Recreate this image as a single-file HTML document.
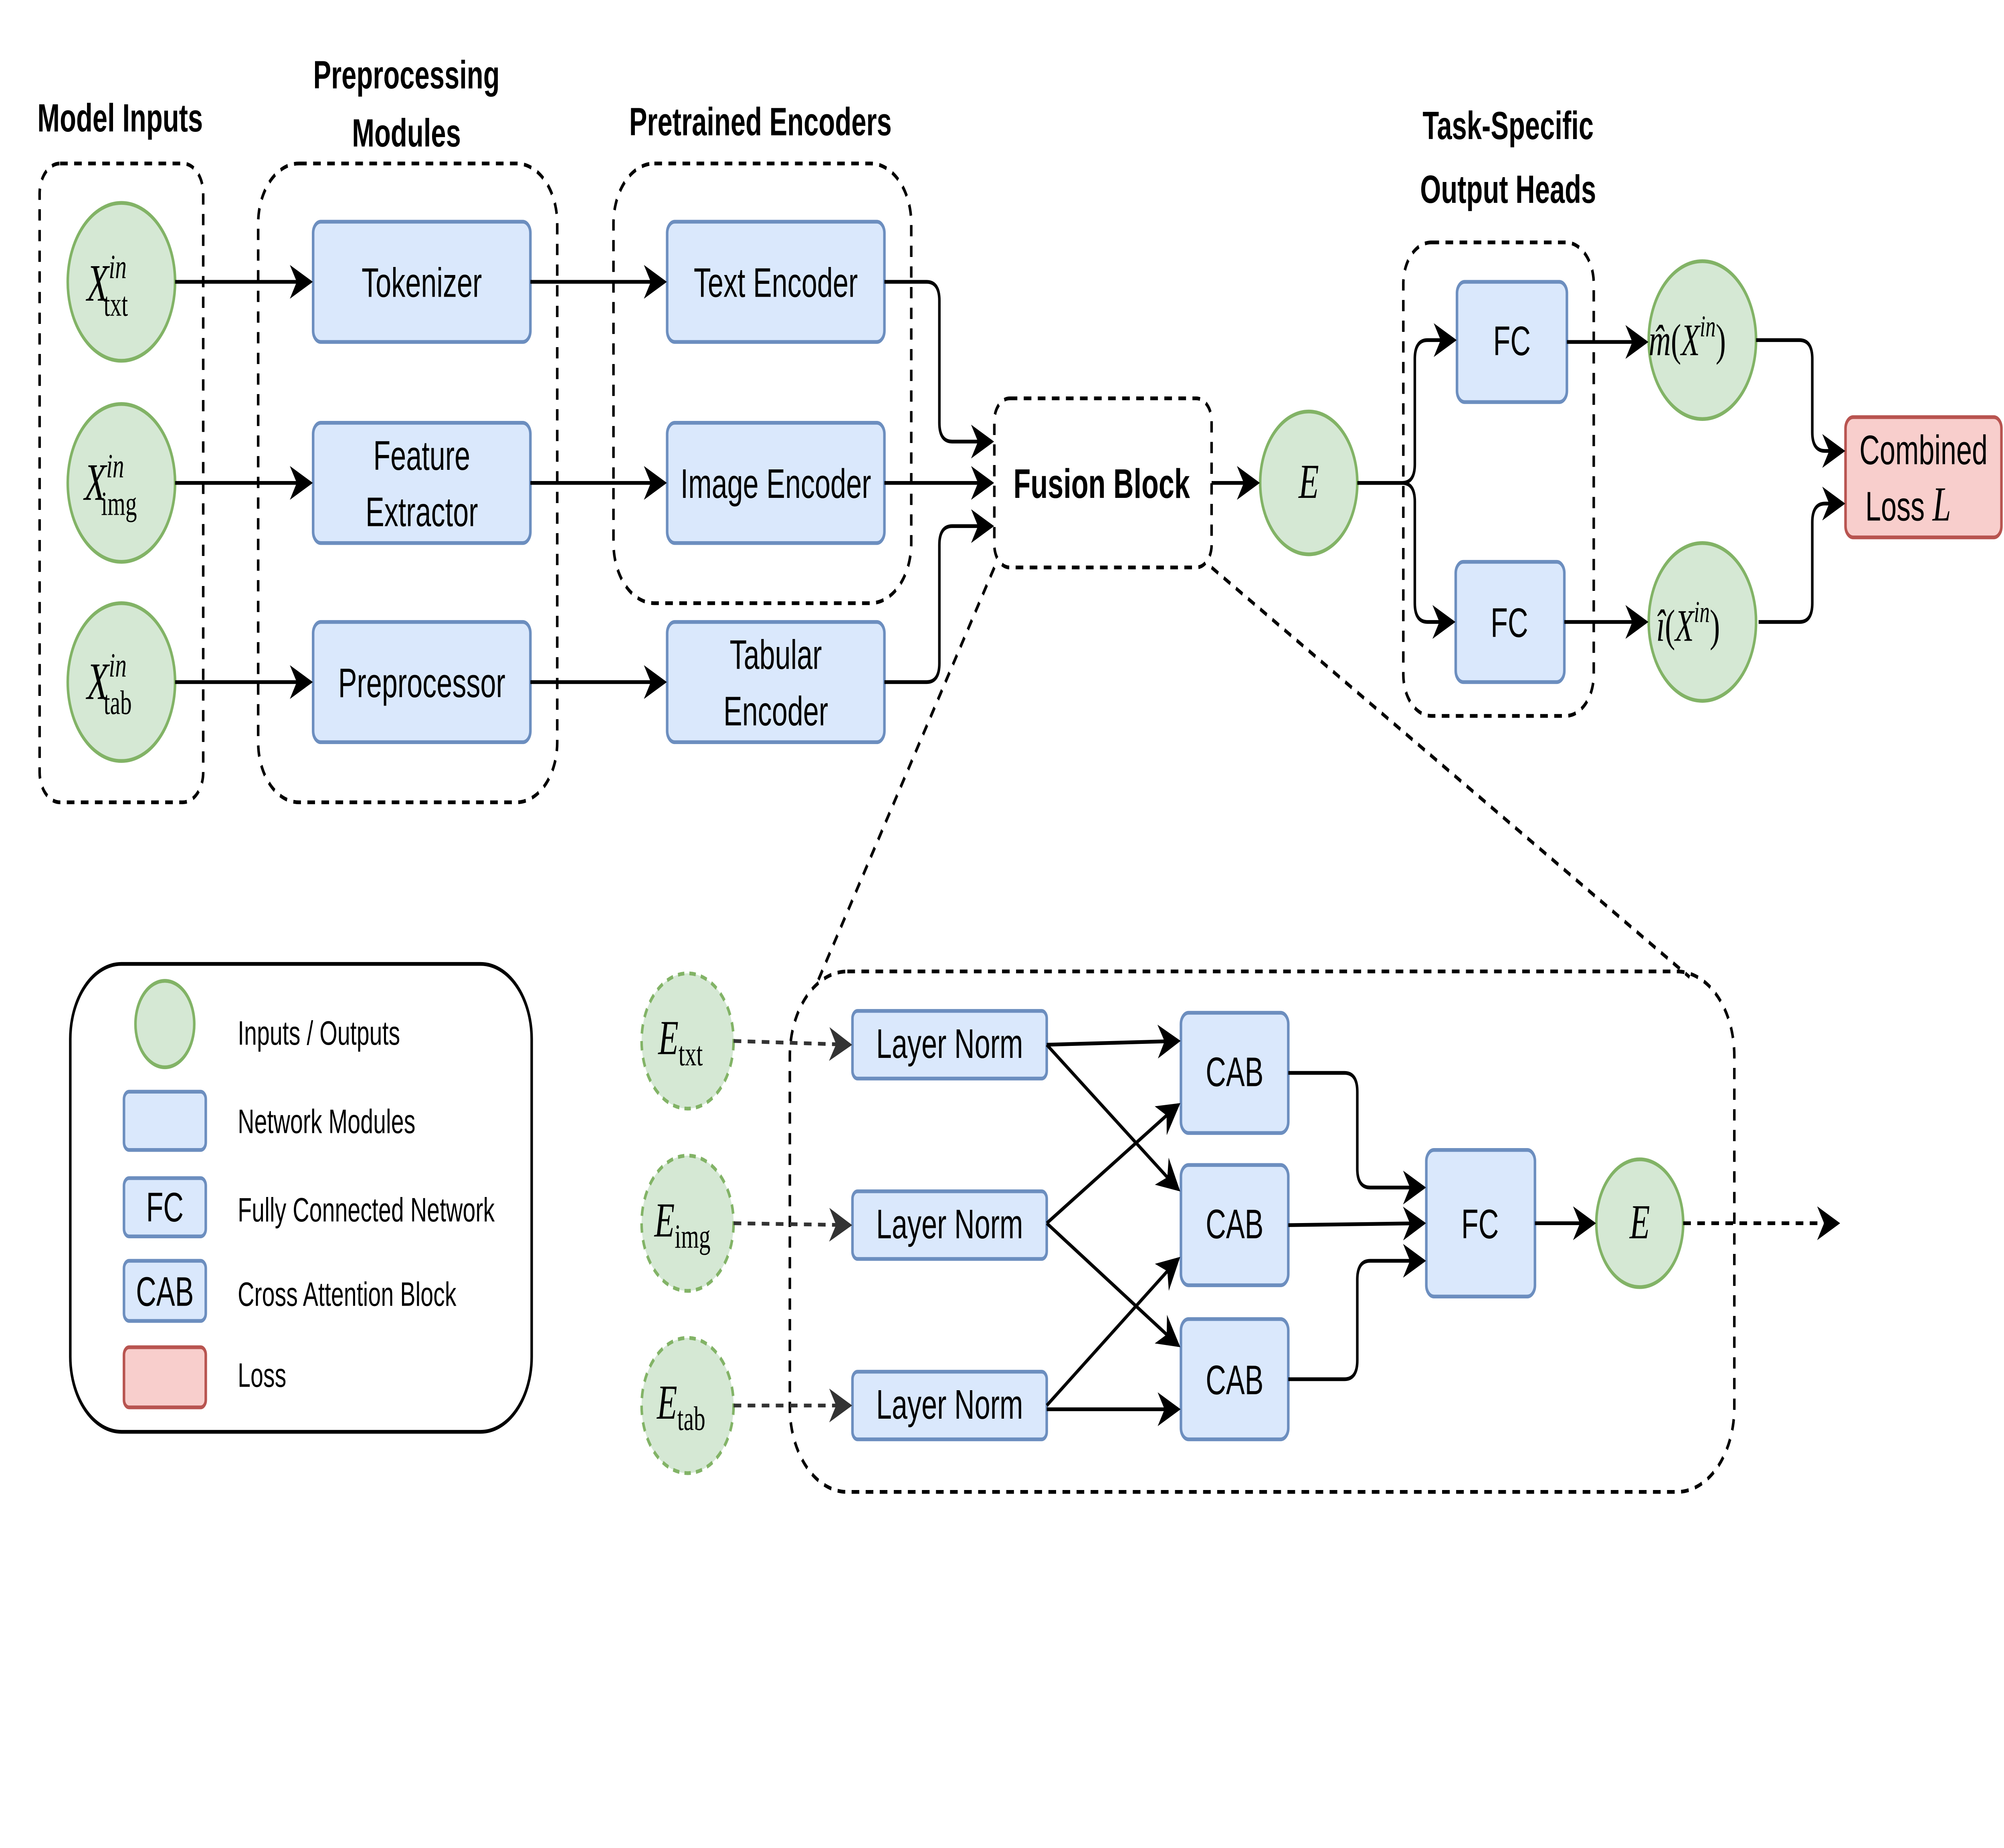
<!DOCTYPE html>
<html><head><meta charset="utf-8"><style>
html,body{margin:0;padding:0;background:#fff;overflow:hidden;width:100vw;height:100vh;}
svg{display:block;width:100vw;height:100vh;}
text{font-family:"Liberation Sans",sans-serif;}
.m{font-family:"Liberation Serif",serif;font-style:italic;}
.u{font-family:"Liberation Serif",serif;font-style:normal;}
</style></head><body>
<svg viewBox="0 0 1568 983.5" preserveAspectRatio="none" xmlns="http://www.w3.org/2000/svg">
<defs>
<marker id="a2" viewBox="0 0 10 10" refX="9" refY="5" markerWidth="18" markerHeight="18" markerUnits="userSpaceOnUse" orient="auto">
<path d="M0,0 L10,5 L0,10 L3,5 z" fill="#000"/></marker>
<marker id="ag" viewBox="0 0 10 10" refX="9" refY="5" markerWidth="18" markerHeight="18" markerUnits="userSpaceOnUse" orient="auto">
<path d="M0,0 L10,5 L0,10 L3,5 z" fill="#333"/></marker>
</defs>
<rect width="1568" height="983.5" fill="#fff"/>
<g font-weight="bold" font-size="21" text-anchor="middle" fill="#000">
<text x="94" y="70">Model Inputs</text>
<text x="318" y="47">Preprocessing</text><text x="318" y="78">Modules</text>
<text x="595" y="72">Pretrained Encoders</text>
<text x="1180" y="74">Task-Specific</text><text x="1180" y="108">Output Heads</text>
</g>
<g fill="none" stroke="#000" stroke-width="2" stroke-dasharray="6,5">
<rect x="31" y="87" width="128" height="340" rx="16"/>
<rect x="202" y="87" width="234" height="340" rx="32"/>
<rect x="480" y="87" width="233" height="234" rx="32"/>
<rect x="778" y="212" width="170" height="90" rx="12"/>
<rect x="1098" y="129" width="149" height="252" rx="22"/>
<rect x="618" y="517" width="739" height="277" rx="45"/>
<line x1="778" y1="302" x2="640" y2="522"/>
<line x1="948" y1="302" x2="1322" y2="520"/>
</g>
<g fill="#d5e8d4" stroke="#82b366" stroke-width="2">
<circle cx="95" cy="150" r="42"/><circle cx="95" cy="257" r="42"/><circle cx="95" cy="363" r="42"/>
<circle cx="1024" cy="257" r="38"/>
<circle cx="1332" cy="181" r="42"/><circle cx="1332" cy="331" r="42"/>
<circle cx="1283" cy="651" r="34"/>
<circle cx="129" cy="545" r="23"/>
</g>
<g fill="#d5e8d4" stroke="#82b366" stroke-width="2" stroke-dasharray="5,4">
<circle cx="538" cy="554" r="36"/><circle cx="538" cy="651" r="36"/><circle cx="538" cy="748" r="36"/>
</g>
<g fill="#dae8fc" stroke="#6c8ebf" stroke-width="2">
<rect x="245" y="118" width="170" height="64" rx="6"/>
<rect x="245" y="225" width="170" height="64" rx="6"/>
<rect x="245" y="331" width="170" height="64" rx="6"/>
<rect x="522" y="118" width="170" height="64" rx="6"/>
<rect x="522" y="225" width="170" height="64" rx="6"/>
<rect x="522" y="331" width="170" height="64" rx="6"/>
<rect x="1140" y="150" width="86" height="64" rx="6"/>
<rect x="1139" y="299" width="85" height="64" rx="6"/>
<rect x="667" y="538" width="152" height="36" rx="4"/>
<rect x="667" y="634" width="152" height="36" rx="4"/>
<rect x="667" y="730" width="152" height="36" rx="4"/>
<rect x="924" y="539" width="84" height="64" rx="6"/>
<rect x="924" y="620" width="84" height="64" rx="6"/>
<rect x="924" y="702" width="84" height="64" rx="6"/>
<rect x="1116" y="612" width="85" height="78" rx="6"/>
<rect x="97" y="581" width="64" height="31" rx="4"/>
<rect x="97" y="627" width="64" height="31" rx="4"/>
<rect x="97" y="671" width="64" height="32" rx="4"/>
</g>
<g fill="#f8cecc" stroke="#b85450" stroke-width="2">
<rect x="1444" y="222" width="122" height="64" rx="6"/>
<rect x="97" y="717" width="64" height="32" rx="4"/>
</g>
<rect x="55" y="513" width="361" height="249" rx="40" fill="none" stroke="#000" stroke-width="2"/>
<g font-size="22" text-anchor="middle" fill="#000">
<text x="330" y="158">Tokenizer</text>
<text x="330" y="250">Feature</text><text x="330" y="280">Extractor</text>
<text x="330" y="371">Preprocessor</text>
<text x="607" y="158">Text Encoder</text>
<text x="607" y="265">Image Encoder</text>
<text x="607" y="356">Tabular</text><text x="607" y="386">Encoder</text>
<text x="1183" y="189">FC</text>
<text x="1181" y="339">FC</text>
<text x="1505" y="247">Combined</text>
<text x="1493" y="277">Loss <tspan class="m" font-size="26">L</tspan></text>
<text x="743" y="563">Layer Norm</text>
<text x="743" y="659">Layer Norm</text>
<text x="743" y="755">Layer Norm</text>
<text x="966" y="578">CAB</text>
<text x="966" y="659">CAB</text>
<text x="966" y="742">CAB</text>
<text x="1158" y="659">FC</text>
<text x="129" y="650">FC</text>
<text x="129" y="695">CAB</text>
</g>
<text x="862" y="265" font-size="22" font-weight="bold" text-anchor="middle">Fusion Block</text>
<g font-size="18" fill="#000">
<text x="186" y="556">Inputs / Outputs</text>
<text x="186" y="603">Network Modules</text>
<text x="186" y="650">Fully Connected Network</text>
<text x="186" y="695">Cross Attention Block</text>
<text x="186" y="738">Loss</text>
</g>
<g fill="#000">
<text x="68" y="160" class="m" font-size="28">X<tspan font-size="18" dy="-12">in</tspan><tspan class="u" font-size="18" dx="-18" dy="20">txt</tspan></text>
<text x="66" y="266" class="m" font-size="28">X<tspan font-size="18" dy="-12">in</tspan><tspan class="u" font-size="18" dx="-18" dy="20">img</tspan></text>
<text x="68" y="372" class="m" font-size="28">X<tspan font-size="18" dy="-12">in</tspan><tspan class="u" font-size="18" dx="-18" dy="20">tab</tspan></text>
<text x="1024" y="265" class="m" font-size="26" text-anchor="middle">E</text>
<text x="1283" y="659" class="m" font-size="26" text-anchor="middle">E</text>
<text x="1290" y="189" class="m" font-size="24">m̂<tspan class="u">(</tspan>X<tspan font-size="16" dy="-10">in</tspan><tspan class="u" dy="10">)</tspan></text>
<text x="1296" y="341" class="m" font-size="24">î<tspan class="u">(</tspan>X<tspan font-size="16" dy="-10">in</tspan><tspan class="u" dy="10">)</tspan></text>
<text x="515" y="561" class="m" font-size="26">E<tspan class="u" font-size="18" dy="6">txt</tspan></text>
<text x="512" y="658" class="m" font-size="26">E<tspan class="u" font-size="18" dy="6">img</tspan></text>
<text x="514" y="755" class="m" font-size="26">E<tspan class="u" font-size="18" dy="6">tab</tspan></text>
</g>
<g fill="none" stroke="#000" stroke-width="2" marker-end="url(#a2)">
<line x1="137" y1="150" x2="243" y2="150"/>
<line x1="137" y1="257" x2="243" y2="257"/>
<line x1="137" y1="363" x2="243" y2="363"/>
<line x1="415" y1="150" x2="520" y2="150"/>
<line x1="415" y1="257" x2="520" y2="257"/>
<line x1="415" y1="363" x2="520" y2="363"/>
<path d="M692,150 H725 Q735,150 735,160 V225 Q735,235 745,235 H776"/>
<line x1="692" y1="257" x2="776" y2="257"/>
<path d="M692,363 H725 Q735,363 735,353 V290 Q735,280 745,280 H776"/>
<line x1="948" y1="257" x2="984" y2="257"/>
<path d="M1062,257 H1097 Q1107,257 1107,247 V191 Q1107,181 1117,181 H1138"/>
<path d="M1062,257 H1097 Q1107,257 1107,267 V321 Q1107,331 1117,331 H1137"/>
<line x1="1226" y1="182" x2="1288" y2="182"/>
<line x1="1224" y1="331" x2="1288" y2="331"/>
<path d="M1374,181 H1408 Q1418,181 1418,191 V230 Q1418,240 1428,240 H1442"/>
<path d="M1376,331 H1408 Q1418,331 1418,321 V278 Q1418,268 1428,268 H1442"/>
<line x1="819" y1="556" x2="922" y2="554"/>
<line x1="819" y1="556" x2="922" y2="633"/>
<line x1="819" y1="651" x2="922" y2="588"/>
<line x1="819" y1="651" x2="922" y2="716"/>
<line x1="819" y1="748" x2="922" y2="670"/>
<line x1="819" y1="750" x2="922" y2="750"/>
<path d="M1008,571 H1052 Q1062,571 1062,581 V622 Q1062,632 1072,632 H1114"/>
<line x1="1008" y1="652" x2="1114" y2="651"/>
<path d="M1008,734 H1052 Q1062,734 1062,724 V681 Q1062,671 1072,671 H1114"/>
<line x1="1201" y1="651" x2="1247" y2="651"/>
</g>
<g fill="none" stroke="#333" stroke-width="2" stroke-dasharray="6,5" marker-end="url(#ag)">
<line x1="574" y1="554" x2="665" y2="556"/>
<line x1="574" y1="651" x2="665" y2="652"/>
<line x1="574" y1="748" x2="665" y2="748"/>
</g>
<line x1="1317" y1="651" x2="1438" y2="651" stroke="#000" stroke-width="2" stroke-dasharray="6,5" marker-end="url(#a2)"/>
</svg>
</body></html>
